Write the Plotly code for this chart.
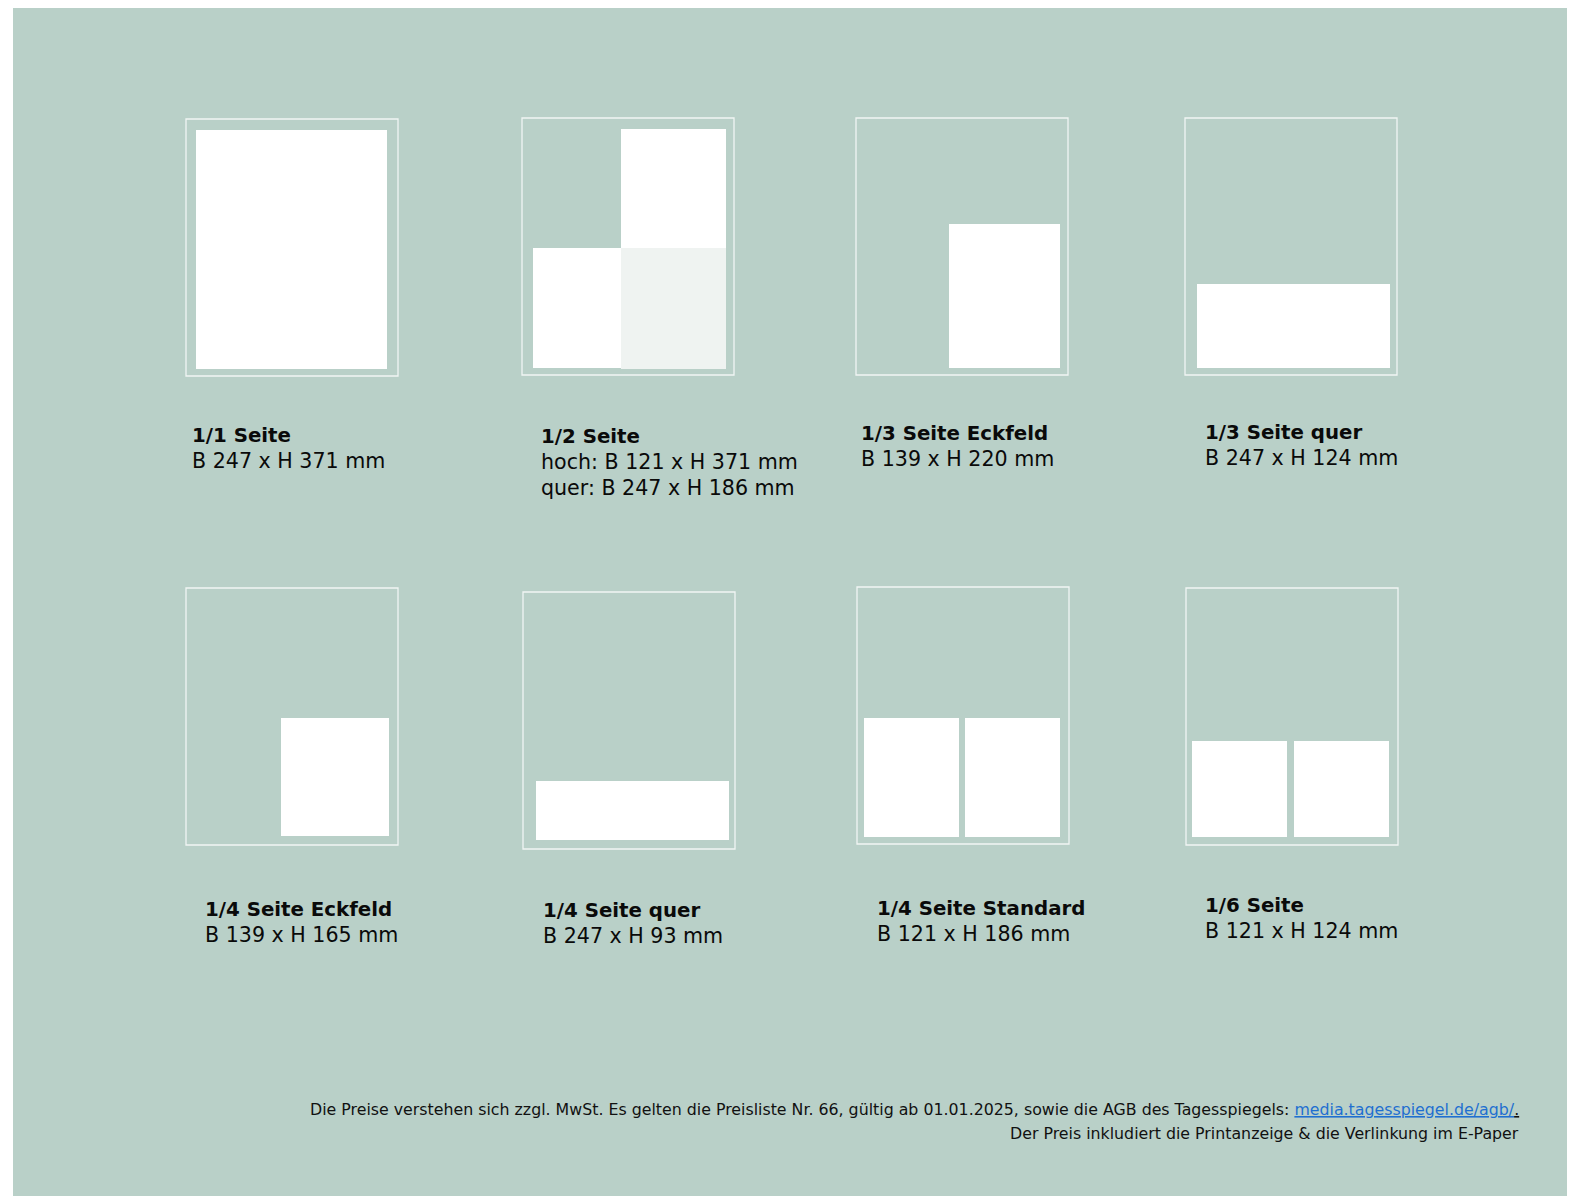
import plotly.graph_objects as go

# ---------------- data ----------------
titles = ["1/1 Seite", "1/2 Seite", "1/3 Seite Eckfeld", "1/3 Seite quer",
          "1/4 Seite Eckfeld", "1/4 Seite quer", "1/4 Seite Standard", "1/6 Seite"]
size_lines = [
    ["B 247 x H 371 mm"],
    ["hoch: B 121 x H 371 mm", "quer: B 247 x H 186 mm"],
    ["B 139 x H 220 mm"],
    ["B 247 x H 124 mm"],
    ["B 139 x H 165 mm"],
    ["B 247 x H 93 mm"],
    ["B 121 x H 186 mm"],
    ["B 121 x H 124 mm"],
]
# frame top-left corner of each page sketch
frame_x = [178, 514, 848, 1177, 178, 515, 849, 1178]
frame_y = [111, 110, 110, 110, 580, 584, 579, 580]
frame_w = 212
frame_h = 257
# ad blocks inside each sketch (relative to frame corner): x0, y0, x1, y1, tone
blocks = [
    [(10, 11, 201, 250, "w")],
    [(99, 11, 204, 130, "w"), (99, 130, 204, 251, "l"), (11, 130, 99, 250, "w")],
    [(93, 106, 204, 250, "w")],
    [(12, 166, 205, 250, "w")],
    [(95, 130, 203, 248, "w")],
    [(13, 189, 206, 248, "w")],
    [(7, 131, 102, 250, "w"), (108, 131, 203, 250, "w")],
    [(6, 153, 101, 249, "w"), (108, 153, 203, 249, "w")],
]
# label anchor (left x, centre y of title line)
label_x = [182, 531, 851, 1195, 195, 533, 867, 1195]
label_y = [427, 428, 425, 424, 901, 902, 900, 897]
line_gap = 26

footer_1 = ("Die Preise verstehen sich zzgl. MwSt. Es gelten die Preisliste Nr. 66, gültig ab "
            "01.01.2025, sowie die AGB des Tagesspiegels: ")
footer_link = "media.tagesspiegel.de/agb/"
footer_2 = "Der Preis inkludiert die Printanzeige & die Verlinkung im E-Paper"

W, H = 1575, 1196
BG = "#B9D0C8"
TONES = {"w": "#FFFFFF", "l": "#EFF3F1"}

fig = go.Figure()
shapes = []
# background panel
shapes.append(dict(type="rect", xref="x", yref="y", x0=5, y0=0, x1=W, y1=H,
                   fillcolor=BG, line=dict(width=0), layer="below"))

for i in range(len(titles)):
    fx, fy = frame_x[i], frame_y[i]
    for (x0, y0, x1, y1, t) in blocks[i]:
        shapes.append(dict(type="rect", xref="x", yref="y",
                           x0=fx + x0, y0=fy + y0, x1=fx + x1, y1=fy + y1,
                           fillcolor=TONES[t], line=dict(width=0)))
    shapes.append(dict(type="rect", xref="x", yref="y",
                       x0=fx, y0=fy, x1=fx + frame_w, y1=fy + frame_h,
                       fillcolor="rgba(0,0,0,0)",
                       line=dict(color="rgba(255,255,255,0.8)", width=1.3)))

annotations = []
LABEL_FONT = "'DejaVu Sans', sans-serif"
for i in range(len(titles)):
    annotations.append(dict(x=label_x[i], y=label_y[i], xref="x", yref="y",
                            text="<b>" + titles[i] + "</b>", showarrow=False,
                            xanchor="left", yanchor="middle",
                            font=dict(family=LABEL_FONT, size=19.8, color="#0A0A0A")))
    for k, ln in enumerate(size_lines[i]):
        annotations.append(dict(x=label_x[i], y=label_y[i] + line_gap * (k + 1),
                                xref="x", yref="y", text=ln, showarrow=False,
                                xanchor="left", yanchor="middle",
                                font=dict(family=LABEL_FONT, size=20.6, color="#0A0A0A")))

FOOT_FONT = "'DejaVu Sans', sans-serif"
annotations.append(dict(
    x=1513, y=1101, xref="x", yref="y", showarrow=False,
    xanchor="right", yanchor="middle",
    text=footer_1 + "<span style='color:#1F6FD0;text-decoration:underline'>" + footer_link
         + "</span><span style='text-decoration:underline'>.</span>",
    font=dict(family=FOOT_FONT, size=15.8, color="#111111")))
annotations.append(dict(
    x=1513, y=1125, xref="x", yref="y", showarrow=False,
    xanchor="right", yanchor="middle", text=footer_2,
    font=dict(family=FOOT_FONT, size=15.8, color="#111111")))

fig.update_layout(
    width=W, height=H,
    margin=dict(l=0, r=0, t=0, b=0),
    paper_bgcolor="#FFFFFF", plot_bgcolor="#FFFFFF",
    xaxis=dict(range=[0, W], visible=False, fixedrange=True),
    yaxis=dict(range=[H, 0], visible=False, fixedrange=True),
    shapes=shapes, annotations=annotations, showlegend=False,
)
fig.write_html("out.html")
